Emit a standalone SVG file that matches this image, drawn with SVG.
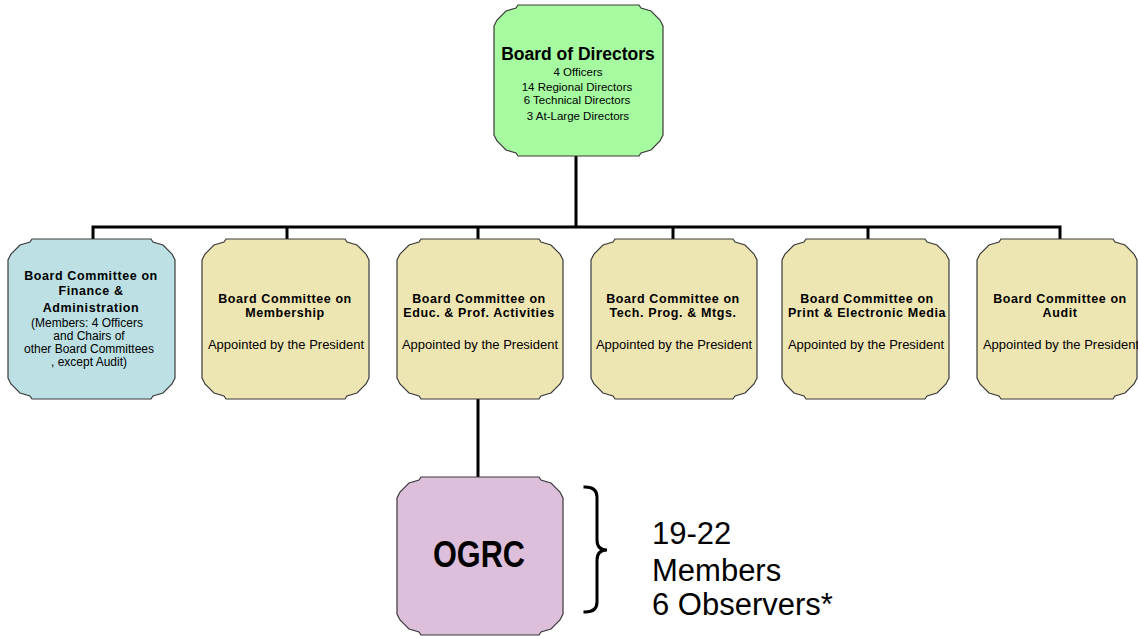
<svg xmlns="http://www.w3.org/2000/svg" width="1138" height="636" viewBox="0 0 1138 636">
<style>
.box{stroke:#3a3a3a;stroke-width:1.2}
.green{fill:#a6fba0}
.blue{fill:#bce0e4}
.beige{fill:#eee6b2}
.pink{fill:#ddbfdc}
.conn{stroke:#000;stroke-width:3;fill:none;stroke-linecap:square}
text{font-family:"Liberation Sans",Arial,sans-serif;fill:#000;text-anchor:middle}
.t{font-weight:bold;font-size:12.5px;letter-spacing:0.6px}
.r{font-size:12px}
.a{font-size:13px}
.s{font-size:11.5px}
.big{font-size:31px;text-anchor:start}
</style>
<rect width="1138" height="636" fill="#fff"/>
<g id="connectors">
<path class="conn" d="M576,156 V227 M93,227 H1060 M93,227 V238 M287,227 V238 M478,227 V238 M673,227 V238 M868,227 V238 M1060,227 V238 M478,399 V476"/>
<path class="conn" stroke-linecap="round" d="M585,487 Q597,487 597,497 V540 Q597,550 607,550 Q597,550 597,560 V602 Q597,612 585,612"/>
</g>
<g id="board">
<path class="box green" d="M518,5 L639,5 L641,8 L651,11 L660,20 L662,24 L663,26 L663,135 L662,137 L660,141 L651,150 L641,153 L639,156 L518,156 L516,153 L506,150 L497,141 L495,137 L494,135 L494,26 L495,24 L497,20 L506,11 L516,8 Z"/>
<text x="578" y="60" font-weight="bold" font-size="17.5">Board of Directors</text>
<text class="s" x="578" y="76">4 Officers</text>
<text class="s" x="577" y="91">14 Regional Directors</text>
<text class="s" x="577" y="104">6 Technical Directors</text>
<text class="s" x="578" y="120">3 At-Large Directors</text>
</g>
<g id="finance">
<path class="box blue" d="M32,239 L151,239 L153,242 L163,245 L172,254 L174,258 L175,260 L175,378 L174,380 L172,384 L163,393 L153,396 L151,399 L32,399 L30,396 L20,393 L11,384 L9,380 L8,378 L8,260 L9,258 L11,254 L20,245 L30,242 Z"/>
<text class="t" x="91" y="280">Board Committee on</text>
<text class="t" x="91" y="295">Finance &amp;</text>
<text class="t" x="91" y="312">Administration</text>
<text class="r" x="87" y="327">(Members: 4  Officers</text>
<text class="r" x="89" y="340">and Chairs of</text>
<text class="r" x="89" y="353">other Board Committees</text>
<text class="r" x="89" y="366">, except Audit)</text>
</g>
<g id="membership">
<path class="box beige" d="M226,239 L345,239 L347,242 L357,245 L366,254 L368,258 L369,260 L369,378 L368,380 L366,384 L357,393 L347,396 L345,399 L226,399 L224,396 L214,393 L205,384 L203,380 L202,378 L202,260 L203,258 L205,254 L214,245 L224,242 Z"/>
<text class="t" x="285" y="303">Board Committee on</text>
<text class="t" x="285" y="317">Membership</text>
<text class="a" x="286" y="349">Appointed by the President</text>
</g>
<g id="education">
<path class="box beige" d="M421,239 L539,239 L541,242 L551,245 L560,254 L562,258 L563,260 L563,378 L562,380 L560,384 L551,393 L541,396 L539,399 L421,399 L419,396 L409,393 L400,384 L398,380 L397,378 L397,260 L398,258 L400,254 L409,245 L419,242 Z"/>
<text class="t" x="479" y="303">Board Committee on</text>
<text class="t" x="479" y="317">Educ. &amp; Prof. Activities</text>
<text class="a" x="480" y="349">Appointed by the President</text>
</g>
<g id="technical">
<path class="box beige" d="M615,239 L733,239 L735,242 L745,245 L754,254 L756,258 L757,260 L757,378 L756,380 L754,384 L745,393 L735,396 L733,399 L615,399 L613,396 L603,393 L594,384 L592,380 L591,378 L591,260 L592,258 L594,254 L603,245 L613,242 Z"/>
<text class="t" x="673" y="303">Board Committee on</text>
<text class="t" x="673" y="317">Tech. Prog. &amp; Mtgs.</text>
<text class="a" x="674" y="349">Appointed by the President</text>
</g>
<g id="media">
<path class="box beige" d="M806,239 L925,239 L927,242 L937,245 L946,254 L948,258 L949,260 L949,378 L948,380 L946,384 L937,393 L927,396 L925,399 L806,399 L804,396 L794,393 L785,384 L783,380 L782,378 L782,260 L783,258 L785,254 L794,245 L804,242 Z"/>
<text class="t" x="867" y="303">Board Committee on</text>
<text class="t" x="867" y="317">Print &amp; Electronic Media</text>
<text class="a" x="866" y="349">Appointed by the President</text>
</g>
<g id="audit">
<path class="box beige" d="M1001,239 L1113,239 L1115,242 L1125,245 L1134,254 L1136,258 L1137,260 L1137,378 L1136,380 L1134,384 L1125,393 L1115,396 L1113,399 L1001,399 L999,396 L989,393 L980,384 L978,380 L977,378 L977,260 L978,258 L980,254 L989,245 L999,242 Z"/>
<text class="t" x="1060" y="303">Board Committee on</text>
<text class="t" x="1060" y="317">Audit</text>
<text class="a" x="1061" y="349">Appointed by the President</text>
</g>
<g id="ogrc">
<path class="box pink" d="M421,477 L539,477 L541,480 L551,483 L560,492 L562,496 L563,498 L563,614 L562,616 L560,620 L551,629 L541,632 L539,635 L421,635 L419,632 L409,629 L400,620 L398,616 L397,614 L397,498 L398,496 L400,492 L409,483 L419,480 Z"/>
<text x="479" y="567" font-weight="bold" font-size="36" textLength="92" lengthAdjust="spacingAndGlyphs">OGRC</text>
</g>
<g id="ogrc-note">
<text class="big" x="652" y="544">19-22</text>
<text class="big" x="652" y="581">Members</text>
<text class="big" x="652" y="615">6 Observers*</text>
</g>
</svg>
